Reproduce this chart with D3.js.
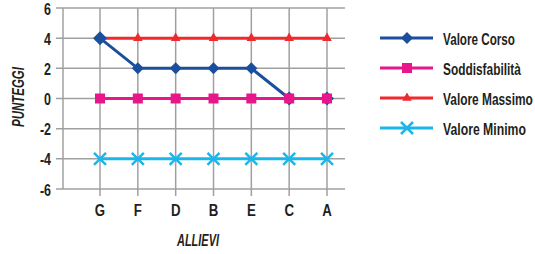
<!DOCTYPE html>
<html><head><meta charset="utf-8">
<script src="https://cdn.jsdelivr.net/npm/d3@7"></script>
<style>
body{margin:0;background:#fff;}
text{font-family:"Liberation Sans",Arial,sans-serif;font-weight:bold;fill:#231f20;}
</style></head>
<body><svg width="535" height="254"></svg>
<script>
const categories = ["G","F","D","B","E","C","A"];
const valoreCorso = [4,2,2,2,2,0,0];
const soddisfabilita = [0,0,0,0,0,0,0];
const valoreMassimo = [4,4,4,4,4,4,4];
const valoreMinimo = [-4,-4,-4,-4,-4,-4,-4];
const yTicks = [6,4,2,0,-2,-4,-6];

const series = [
  {name:"Valore Massimo", values:valoreMassimo, color:"#ee2a2e", marker:"triangle"},
  {name:"Valore Corso", values:valoreCorso, color:"#1b4f9e", marker:"diamond"},
  {name:"Soddisfabilità", values:soddisfabilita, color:"#e8168a", marker:"square"},
  {name:"Valore Minimo", values:valoreMinimo, color:"#1cb6ea", marker:"x"}
];
const legendOrder = ["Valore Corso","Soddisfabilità","Valore Massimo","Valore Minimo"];
const legendWidths = [72, 78, 90, 83];

const svg = d3.select("svg");
const pL = 63, pR = 345, pT = 8, pB = 189;
const x = d3.scalePoint().domain(categories).range([100, 327]);
const y = d3.scaleLinear().domain([-6,6]).range([pB, pT]);
const SX = 0.78;

function fitText(sel, tx, ty, w, rot){
  const nat = sel.node().getComputedTextLength();
  sel.attr("transform", `translate(${tx},${ty})${rot?` rotate(${rot})`:""} scale(${w/nat},1)`);
}

const grid = svg.append("g");
grid.selectAll("line.h").data(yTicks).join("line")
  .attr("x1", pL-7).attr("x2", pR)
  .attr("y1", d=>y(d)).attr("y2", d=>y(d))
  .attr("stroke","#a0a0a0").attr("stroke-width",1.5);
grid.selectAll("line.v").data(categories).join("line")
  .attr("x1", d=>x(d)).attr("x2", d=>x(d))
  .attr("y1", pT).attr("y2", pB+7)
  .attr("stroke","#a0a0a0").attr("stroke-width",1.5);
grid.append("line").attr("x1",pL).attr("x2",pL).attr("y1",pT).attr("y2",pB)
  .attr("stroke","#a0a0a0").attr("stroke-width",1.5);

svg.append("g").selectAll("text").data(yTicks).join("text")
  .attr("transform", d=>`translate(51,${y(d)+6.5}) scale(${SX},1)`).attr("text-anchor","end")
  .attr("font-size",16)
  .text(d=>d);
svg.append("g").selectAll("text").data(categories).join("text")
  .attr("transform", d=>`translate(${x(d)},216) scale(${SX},1)`).attr("text-anchor","middle")
  .attr("font-size",17)
  .text(d=>d);
const xt = svg.append("text").attr("font-size",17).attr("font-style","italic").text("ALLIEVI");
fitText(xt, 177, 246, 42);
const yt = svg.append("text").attr("font-size",17).attr("font-style","italic").text("PUNTEGGI");
fitText(yt, 24, 127, 60, -90);

function drawMarker(g, type, cx, cy, color, big){
  if(type==="diamond"){
    const r = big ? 7 : 6;
    g.append("path").attr("d",`M${cx},${cy-r}L${cx+r},${cy}L${cx},${cy+r}L${cx-r},${cy}Z`).attr("fill",color);
  } else if(type==="square"){
    g.append("rect").attr("x",cx-5).attr("y",cy-5).attr("width",10).attr("height",10).attr("fill",color);
  } else if(type==="triangle"){
    g.append("path").attr("d", d3.symbol(d3.symbolTriangle, 40)()).attr("transform",`translate(${cx},${cy})`).attr("fill",color);
  } else if(type==="x"){
    g.append("path").attr("d",`M${cx-6},${cy-6}L${cx+6},${cy+6}M${cx-6},${cy+6}L${cx+6},${cy-6}`)
      .attr("stroke",color).attr("stroke-width",2.5).attr("fill","none");
  }
}

const line = d3.line().x((d,i)=>x(categories[i])).y(d=>y(d));
series.forEach(s=>{
  const g = svg.append("g");
  g.append("path").attr("d", line(s.values)).attr("fill","none").attr("stroke",s.color).attr("stroke-width",3);
  s.values.forEach((v,i)=>drawMarker(g, s.marker, x(categories[i]), y(v), s.color, i===0 || i>=5));
});

const lg = svg.append("g");
legendOrder.forEach((name,i)=>{
  const s = series.find(d=>d.name===name);
  const ly = 38 + i*30;
  lg.append("line").attr("x1",380).attr("x2",433).attr("y1",ly).attr("y2",ly).attr("stroke",s.color).attr("stroke-width",3);
  drawMarker(lg, s.marker, 407, ly, s.color, false);
  const t = lg.append("text").attr("font-size",17).text(name);
  fitText(t, 443, ly+6.5, legendWidths[i]);
});
</script></body></html>
